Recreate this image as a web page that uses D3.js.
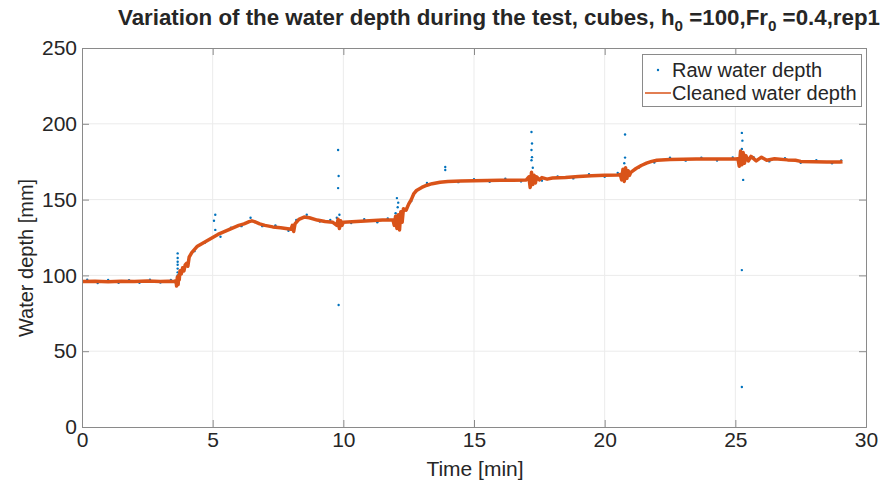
<!DOCTYPE html>
<html>
<head>
<meta charset="utf-8">
<script src="https://cdn.jsdelivr.net/npm/d3@7"></script>
<style>
  html, body { margin: 0; padding: 0; background: #fff; }
  svg { display: block; }
  text { font-family: "Liberation Sans", Arial, sans-serif; fill: #262626; }
</style>
</head>
<body>
<svg id="chart" width="888" height="490"></svg>
<script>
// ---------- data ----------
const cleanTime = [0,0.5,1.0,1.5,2.0,2.5,3.0,3.3,3.5,3.6,3.62,3.65,3.68,3.7,3.72,3.75,3.8,3.85,3.9,3.95,4.0,4.05,4.1,4.2,4.3,4.4,4.6,4.8,5.0,5.2,5.4,5.6,5.8,6.0,6.2,6.4,6.5,6.6,6.8,7.0,7.3,7.6,7.8,8.0,8.05,8.1,8.15,8.2,8.3,8.5,8.7,9.0,9.3,9.6,9.75,9.8,9.85,9.9,9.95,10.0,10.5,11.0,11.5,11.9,11.95,12.0,12.05,12.1,12.15,12.2,12.25,12.3,12.4,12.5,12.6,12.7,12.8,12.9,13.0,13.2,13.4,13.7,14.0,14.5,15.0,15.5,16.0,16.5,17.0,17.1,17.15,17.2,17.25,17.3,17.35,17.4,17.5,17.6,17.8,18.0,18.5,19.0,19.5,20.0,20.5,20.6,20.65,20.7,20.75,20.8,20.85,20.9,20.95,21.0,21.2,21.4,21.6,21.8,22.0,22.5,23.0,23.5,24.0,24.5,25.0,25.1,25.15,25.2,25.25,25.3,25.35,25.4,25.5,25.6,25.8,26.0,26.2,26.5,27.0,27.3,27.5,28.0,28.5,29.0,29.1];
const cleanDepth = [96,96.2,95.8,96.1,96.0,96.3,96.0,96.2,95.9,96.5,93,99,94,100,97,103,101,105,103,107,108,106,112,115,117,119,121,123,125,127,128.5,130,131.5,133,134,135.5,136,135.5,134,133,132,131.5,131,130.5,133,129,134,135,137,138.5,138,136.5,135.5,135,133,137,131,136,133,135,135.5,136,136.5,136.5,133,139,131,140,130,142,135,144,143,147,150,154,156,157,158,159.5,160.5,161.5,162,162.3,162.5,162.6,162.7,162.8,163,165,158,168,160,166,161,165,163,164.5,163.5,164.2,164.5,165.2,165.8,166,166.3,166.5,163,170,162,171,164,169,166,168,170.5,172.5,174,175.2,176,176.5,176.6,176.8,176.7,176.8,176.8,177,172,182,173,181,174,179,175.5,178.5,175.5,178,176,177,176.2,176,175.2,175,174.8,174.8,175];

const rawTime = [0.2,0.6,1.0,1.4,1.8,2.2,2.6,3.0,3.4,3.6,3.66,3.66,3.66,3.66,3.66,3.66,3.66,3.66,4.3,4.7,5.05,5.1,5.1,5.3,5.7,6.1,6.45,6.9,7.4,7.9,8.2,8.6,9.1,9.5,9.75,9.8,9.82,9.8,9.82,9.85,10.3,10.8,11.3,11.7,12.0,12.05,12.1,12.08,12.6,13.2,13.9,13.9,14.4,15.0,15.6,16.2,16.8,17.2,17.22,17.2,17.22,17.2,17.25,17.6,18.2,18.8,19.4,20.0,20.5,20.78,20.78,20.75,21.3,21.9,22.5,23.1,23.7,24.3,24.9,25.25,25.27,25.25,25.27,25.3,25.25,25.25,25.7,26.3,26.9,27.5,28.1,28.7,29.05];
const rawDepth = [97.2,95.0,97.0,95.2,96.9,95.1,97.1,95.3,97.0,94.8,98,100,102,104.5,107,109,111.5,114.5,116,121.5,136,140,130,125.5,131.5,132.5,138,132.5,133,129.5,136.5,140,135.5,136.5,138,182.7,165.6,157.6,80.5,140,134.5,137,135,137.5,141,151,148,145,149,161,171.5,169.5,161.5,163.5,161.8,163.8,162,194.6,187,182.7,178,176,171,162.5,165.3,164,166.8,165,167.5,192.9,177.7,174,171,174.5,177.6,175.7,177.7,175.8,177.8,194,188.9,183.4,180,163,103.5,26.4,178,175.2,177.3,174.3,176,174,175.8];

const xTicks = [0,5,10,15,20,25,30];
const yTicks = [0,50,100,150,200,250];
const titleParts = ["Variation of the water depth during the test, cubes, h", "0", " =100,Fr", "0", " =0.4,rep1"];
const xLabel = "Time [min]";
const yLabel = "Water depth [mm]";
const legendLabels = ["Raw water depth", "Cleaned water depth"];

// ---------- layout ----------
const svg = d3.select("#chart");
const L = 82, R = 866, T = 48, B = 427;
const x = d3.scaleLinear().domain([0, 30]).range([L, R]);
const y = d3.scaleLinear().domain([0, 250]).range([B, T]);
const axisColor = "#262626";
const blue = "#0072BD", orange = "#D95319";

// grid
const grid = svg.append("g");
grid.selectAll(".gx").data(xTicks.slice(1, -1)).enter().append("line")
  .attr("x1", d => x(d)).attr("x2", d => x(d)).attr("y1", T).attr("y2", B)
  .attr("stroke", "#ebebeb").attr("stroke-width", 1);
grid.selectAll(".gy").data(yTicks.slice(1, -1)).enter().append("line")
  .attr("y1", d => y(d)).attr("y2", d => y(d)).attr("x1", L).attr("x2", R)
  .attr("stroke", "#ebebeb").attr("stroke-width", 1);

// raw points
const rawData = rawTime.map((t, i) => [t, rawDepth[i]]);
svg.append("g").selectAll("circle").data(rawData).enter().append("circle")
  .attr("cx", d => x(d[0])).attr("cy", d => y(d[1])).attr("r", 1.2)
  .attr("fill", blue);

// cleaned line
const cleanData = cleanTime.map((t, i) => [t, cleanDepth[i]]);
svg.append("path").datum(cleanData)
  .attr("d", d3.line().x(d => x(d[0])).y(d => y(d[1])))
  .attr("fill", "none").attr("stroke", orange).attr("stroke-width", 3.5)
  .attr("stroke-linejoin", "round");

// axes (MATLAB style: box with inward ticks)
const tl = 7;
const ax = svg.append("g").attr("class", "axes");
ax.append("g").attr("transform", `translate(0,${B})`)
  .call(d3.axisBottom(x).tickValues(xTicks).tickSize(-tl).tickPadding(5).tickFormat(d3.format("d")));
ax.append("g").attr("transform", `translate(0,${T})`)
  .call(d3.axisTop(x).tickValues(xTicks).tickSize(-tl).tickFormat(""));
ax.append("g").attr("transform", `translate(${L},0)`)
  .call(d3.axisLeft(y).tickValues(yTicks).tickSize(-tl).tickPadding(5).tickFormat(d3.format("d")));
ax.append("g").attr("transform", `translate(${R},0)`)
  .call(d3.axisRight(y).tickValues(yTicks).tickSize(-tl).tickFormat(""));
ax.selectAll("path.domain").attr("stroke", "#8a8a8a").attr("stroke-width", 1);
ax.selectAll(".tick line").attr("stroke", "#8a8a8a").attr("stroke-width", 1);
ax.selectAll(".tick text").style("font-family", '"Liberation Sans", Arial, sans-serif')
  .style("font-size", "21px").attr("fill", axisColor);

// axis labels
svg.append("text").attr("x", 475).attr("y", 476).attr("text-anchor", "middle")
  .style("font-size", "21px").text(xLabel);
svg.append("text").attr("transform", "translate(33,258) rotate(-90)").attr("text-anchor", "middle")
  .style("font-size", "20px").text(yLabel);

// title
const title = svg.append("text").attr("x", 499).attr("y", 25).attr("text-anchor", "middle")
  .attr("textLength", 762).attr("lengthAdjust", "spacingAndGlyphs")
  .style("font-size", "22px").style("font-weight", "bold");
titleParts.forEach((p, i) => {
  const ts = title.append("tspan").text(p);
  if (i % 2 === 1) ts.attr("dy", 6).style("font-size", "15px");
  else if (i > 0) ts.attr("dy", -6);
});

// legend
const lg = svg.append("g");
lg.append("rect").attr("x", 642.5).attr("y", 54.5).attr("width", 219).attr("height", 52)
  .attr("fill", "#fff").attr("stroke", "#8a8a8a").attr("stroke-width", 1);
lg.append("circle").attr("cx", 658).attr("cy", 70).attr("r", 1.2).attr("fill", blue);
lg.append("line").attr("x1", 645).attr("x2", 671).attr("y1", 93).attr("y2", 93)
  .attr("stroke", orange).attr("stroke-width", 1.5);
legendLabels.forEach((t, i) => {
  lg.append("text").attr("x", 672).attr("y", 77 + i * 23).style("font-size", "20px").text(t);
});
</script>
</body>
</html>
